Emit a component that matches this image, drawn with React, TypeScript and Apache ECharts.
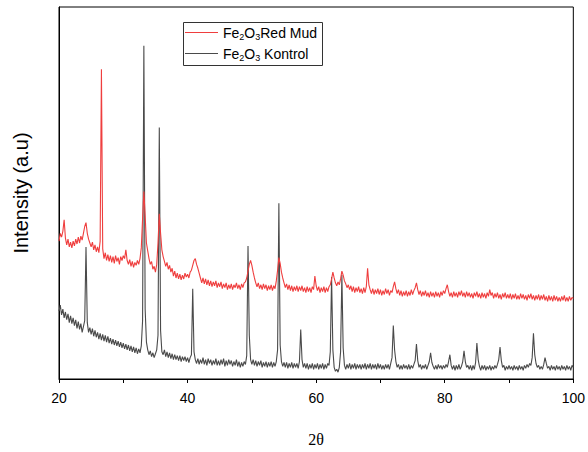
import React, { useEffect, useRef } from "react";
import * as echarts from "echarts";

// 2θ measurement grid: 20° to 100°, step 0.2°
const START_ANGLE = 20;
const STEP = 0.2;

// Fe2O3 Red Mud intensities (a.u.), one value per 0.2° from 20° to 100°
const redMud: number[] = [
  142,150,146,152,164,145,138,144,136,141,135,142,137,144,139,146,140,147,143,150,157,161,150,144,140,
  136,141,133,138,131,136,130,142,319,134,124,130,122,128,121,127,120,126,119,127,121,125,118,126,122,
  127,124,133,122,118,123,116,121,115,120,117,122,118,124,135,165,193,168,140,132,124,118,121,113,116,
  110,118,140,170,150,133,126,121,116,120,113,117,110,114,106,111,104,109,103,108,102,107,103,109,105,
  108,104,110,112,117,122,124,118,114,109,104,99,104,98,103,97,102,96,101,95,100,96,101,94,99,
  95,100,93,98,94,99,92,97,93,98,92,97,94,99,93,97,92,98,94,99,100,104,111,118,122,
  117,110,104,99,95,99,93,97,92,98,93,97,91,96,92,97,91,96,93,101,112,125,119,110,104,
  99,94,98,92,97,91,96,90,95,91,96,90,95,91,96,90,94,89,95,90,94,89,95,92,106,
  96,91,95,89,94,90,95,89,94,90,95,97,103,110,104,99,96,100,97,103,111,107,101,98,94,
  97,92,96,90,95,89,94,90,95,89,93,88,94,89,95,114,97,92,88,93,87,92,88,93,87,
  92,86,91,87,93,88,92,86,91,89,95,100,93,88,92,86,91,85,90,86,91,85,90,86,92,
  87,91,94,99,92,87,91,85,90,86,91,85,89,84,90,85,89,84,90,85,89,84,90,86,91,
  88,93,97,90,85,89,84,90,85,89,84,90,86,91,85,89,84,90,85,89,84,88,83,89,85,
  90,84,88,83,89,84,88,83,89,85,92,86,89,83,88,84,89,83,87,82,88,84,89,83,87,
  83,88,82,87,83,88,82,86,82,88,83,87,82,86,81,87,83,88,82,86,81,86,82,87,81,
  86,82,87,81,85,80,86,81,85,80,86,81,85,80,84,80,85,81,86,80,84,80,85,81,84,
  83,
];

// Fe2O3 Kontrol intensities (a.u.), one value per 0.2° from 20° to 100°
const kontrol: number[] = [
  70,76,66,72,63,69,61,67,58,65,57,63,55,61,52,59,51,57,48,54,60,136,58,48,53,
  46,52,44,50,43,48,41,47,40,46,39,45,38,44,37,42,36,41,35,40,34,39,33,38,32,
  37,31,36,30,35,29,34,28,33,27,32,26,31,27,34,60,343,72,38,30,25,29,23,27,22,
  26,30,45,259,50,28,25,30,23,28,22,27,21,26,20,25,20,24,19,24,18,23,19,23,18,
  22,17,22,25,93,28,20,16,21,15,20,16,22,15,20,14,21,16,20,14,19,15,21,14,19,
  14,20,15,21,13,19,14,20,15,19,13,18,14,20,13,18,12,17,13,18,15,24,137,45,20,
  15,20,14,19,13,18,14,19,12,17,13,18,12,17,13,18,12,17,13,18,30,181,35,18,13,
  17,12,17,11,16,12,17,11,16,12,16,11,18,51,20,12,16,11,16,10,15,11,16,10,15,
  11,16,10,15,11,16,10,15,11,16,14,28,105,30,12,8,10,7,12,28,107,32,14,10,15,
  11,16,10,15,11,16,10,15,11,15,10,15,11,16,10,15,11,16,10,15,11,15,10,16,11,
  15,10,14,10,15,11,15,10,16,22,55,30,18,12,15,10,14,10,15,11,14,10,15,10,14,
  11,15,19,36,19,12,15,10,14,11,15,10,14,18,27,17,13,10,14,10,15,11,14,10,14,
  11,15,12,18,25,14,10,14,9,14,10,15,10,13,18,29,18,12,14,10,14,9,14,10,17,
  37,20,13,9,14,10,14,9,13,10,14,9,13,10,14,11,15,20,33,19,12,14,9,13,10,
  14,10,13,9,14,10,13,9,14,10,13,9,14,11,15,12,16,14,22,47,25,16,12,14,10,
  13,10,15,22,16,11,13,9,14,10,13,9,14,10,13,9,14,10,13,9,14,10,13,9,14,
  12,
];

const xTicks = [20, 40, 60, 80, 100];

const RED = "#ef3e3e";
const DARK = "#4a4a4a";

function toPairs(vals: number[]): [number, number][] {
  return vals.map((v, i) => [+(START_ANGLE + STEP * i).toFixed(1), v]);
}

export default function App() {
  const ref = useRef<HTMLDivElement>(null);
  useEffect(() => {
    if (!ref.current) return;
    document.body.style.margin = "0";
    const chart = echarts.init(ref.current, undefined, { renderer: "svg" });
    const font = "'Liberation Sans', Arial, sans-serif";
    const sub = { fontSize: 9, lineHeight: 9, verticalAlign: "bottom", fontFamily: font, fill: "#000" };
    const norm = { fontSize: 14, lineHeight: 16, fontFamily: font, fill: "#000" };
    chart.setOption({
      animation: false,
      backgroundColor: "#fff",
      grid: { left: 59, right: 14, top: 7, bottom: 62, show: true, borderColor: "#000", borderWidth: 1 },
      xAxis: {
        type: "value",
        min: xTicks[0],
        max: xTicks[xTicks.length - 1],
        interval: 20,
        name: "2θ",
        nameLocation: "middle",
        nameGap: 52,
        nameTextStyle: { fontFamily: "'Liberation Serif', 'Times New Roman', serif", fontSize: 16, color: "#000" },
        axisLine: { show: true, lineStyle: { color: "#000", width: 1 } },
        axisTick: { show: true, inside: false, length: 4, lineStyle: { color: "#000" } },
        minorTick: { show: true, splitNumber: 2, length: 4, lineStyle: { color: "#000" } },
        axisLabel: { fontFamily: font, fontSize: 14, color: "#000", margin: 12 },
        splitLine: { show: false },
      },
      yAxis: {
        type: "value",
        min: 0,
        max: 383,
        name: "Intensity (a.u)",
        nameLocation: "middle",
        nameGap: 28,
        nameTextStyle: { fontFamily: "'Liberation Sans Narrow', 'Arial Narrow', " + font, fontSize: 20, color: "#000" },
        axisLine: { show: true, lineStyle: { color: "#000", width: 1 } },
        axisTick: { show: false },
        axisLabel: { show: false },
        splitLine: { show: false },
      },
      series: [
        {
          name: "Fe2O3 Kontrol",
          type: "line",
          data: toPairs(kontrol),
          showSymbol: false,
          lineStyle: { color: DARK, width: 1.1 },
          itemStyle: { color: DARK },
        },
        {
          name: "Fe2O3Red Mud",
          type: "line",
          data: toPairs(redMud),
          showSymbol: false,
          lineStyle: { color: RED, width: 1.1 },
          itemStyle: { color: RED },
        },
      ],
      graphic: [
        { type: "rect", shape: { x: 183.5, y: 22.5, width: 139, height: 43 }, style: { fill: "#fff", stroke: "#333", lineWidth: 1 }, z: 100 },
        { type: "line", shape: { x1: 185, y1: 32.5, x2: 218, y2: 32.5 }, style: { stroke: RED, lineWidth: 1 }, z: 101 },
        { type: "line", shape: { x1: 185, y1: 53.5, x2: 218, y2: 53.5 }, style: { stroke: DARK, lineWidth: 1 }, z: 101 },
        {
          type: "text", x: 223, y: 33, z: 101,
          style: {
            text: "{n|Fe}{s|2}{n|O}{s|3}{n|Red Mud}",
            verticalAlign: "middle",
            rich: { n: norm, s: sub },
          },
        },
        {
          type: "text", x: 223, y: 54, z: 101,
          style: {
            text: "{n|Fe}{s|2}{n|O}{s|3}{n| Kontrol}",
            verticalAlign: "middle",
            rich: { n: norm, s: sub },
          },
        },
      ],
    });
    return () => chart.dispose();
  }, []);
  return <div ref={ref} style={{ width: 588, height: 452 }} />;
}
